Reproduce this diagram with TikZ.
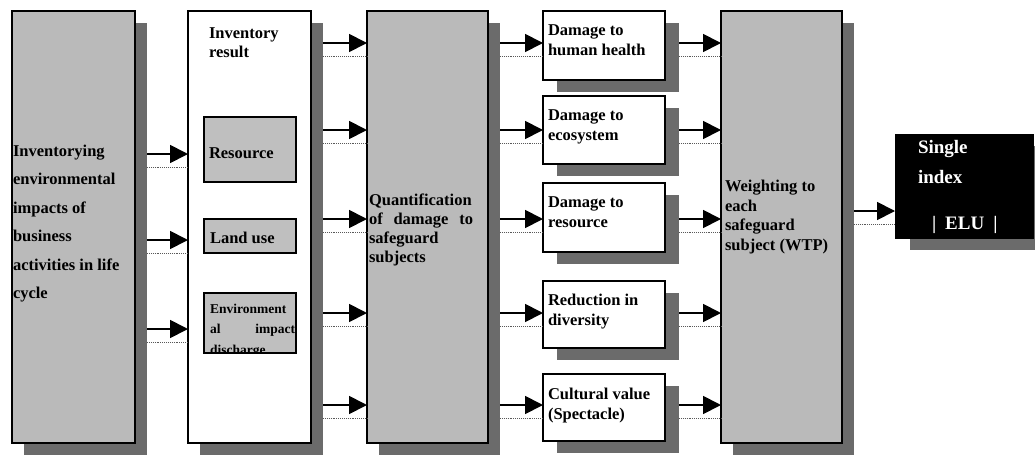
\documentclass[tikz,border=0pt]{standalone}
\usepackage{fontspec}
\setmainfont{Liberation Serif}
\usetikzlibrary{arrows.meta}
\begin{document}
\begin{tikzpicture}[x=1pt,y=-1pt,
  shadowbox/.style={fill=black!58, draw=none, anchor=north west, inner sep=0pt, outer sep=0pt},
  greybox/.style={fill=black!27, draw=black, line width=1.4pt, anchor=north west, inner sep=0pt, outer sep=0pt},
  whitebox/.style={fill=white, draw=black, line width=1.4pt, anchor=north west, inner sep=0pt, outer sep=0pt},
  innerbox/.style={fill=black!25, draw=black, line width=1.2pt, anchor=north west, inner sep=0pt, outer sep=0pt, minimum width=92pt},
  blackbox/.style={fill=black, draw=black, anchor=north west, inner sep=0pt, outer sep=0pt},
  lbl/.style={anchor=north west, inner sep=0pt, outer sep=0pt, align=left},
  arr/.style={line width=1.8pt, -{Triangle[length=18pt,width=18pt]}},
  ashadow/.style={line width=0.9pt, black!65, densely dotted},
]
\useasboundingbox (0,0) rectangle (1035,455);

% ---------- shadows ----------
\node[shadowbox, minimum width=123pt, minimum height=432pt] (s1) at (24,23) {};
\node[shadowbox, minimum width=123pt, minimum height=432pt] (s2) at (200,23) {};
\node[shadowbox, minimum width=121pt, minimum height=432pt] (s3) at (379,23) {};
\node[shadowbox, minimum width=122pt, minimum height=69pt] (s4a) at (557,23) {};
\node[shadowbox, minimum width=122pt, minimum height=68pt] (s4b) at (557,108) {};
\node[shadowbox, minimum width=122pt, minimum height=69pt] (s4c) at (557,195) {};
\node[shadowbox, minimum width=122pt, minimum height=67pt] (s4d) at (557,293) {};
\node[shadowbox, minimum width=122pt, minimum height=67pt] (s4e) at (557,386) {};
\node[shadowbox, minimum width=121pt, minimum height=432pt] (s5) at (733,23) {};
\node[shadowbox, minimum width=125pt, minimum height=104pt] (s6) at (910,146) {};

% ---------- boxes ----------
\node[greybox, minimum width=123pt, minimum height=432pt] (b1) at (12,11) {};
\node[whitebox, minimum width=123pt, minimum height=432pt] (b2) at (188,11) {};
\node[greybox, minimum width=121pt, minimum height=432pt] (b3) at (367,11) {};
\node[whitebox, minimum width=122pt, minimum height=69pt] (b4a) at (543,11) {};
\node[whitebox, minimum width=122pt, minimum height=68pt] (b4b) at (543,96) {};
\node[whitebox, minimum width=122pt, minimum height=69pt] (b4c) at (543,183) {};
\node[whitebox, minimum width=122pt, minimum height=67pt] (b4d) at (543,281) {};
\node[whitebox, minimum width=122pt, minimum height=67pt] (b4e) at (543,374) {};
\node[greybox, minimum width=121pt, minimum height=432pt] (b5) at (721,11) {};
\node[blackbox, minimum width=138pt, minimum height=104pt] (b6) at (895,134) {};

% inner boxes of the inventory result
\node[innerbox, minimum height=65pt] (res) at (204,117) {};
\node[innerbox, minimum height=34pt] (land) at (204,219) {};
\node[innerbox, minimum height=60pt] (env) at (204,293) {};

% ---------- texts ----------
\node[lbl, font={\fontsize{16.5}{28.5}\selectfont\bfseries}] (t1) at (13,145)
  {Inventorying\\environmental\\impacts of\\business\\activities in life\\cycle};
\node[lbl, font={\fontsize{16.5}{19}\selectfont\bfseries}] (t2) at (209,28)
  {Inventory\\result};
\node[lbl, font={\fontsize{16.5}{19}\selectfont\bfseries}] (tres) at (209,148) {Resource};
\node[lbl, font={\fontsize{16.5}{19}\selectfont\bfseries}] (tland) at (210,232) {Land use};
\begin{scope}
  \clip (env.north west) rectangle (env.south east);
  \node[lbl, font={\fontsize{13.5}{20.5}\selectfont\bfseries}] (tenv) at (210,304)
    {Environment\\\makebox[85pt][s]{al impact}\\discharge};
\end{scope}
\node[lbl, font={\fontsize{16.5}{19}\selectfont\bfseries}] (t3) at (369,194)
  {Quantification\\\makebox[104pt][s]{of damage to}\\safeguard\\subjects};
\node[lbl, font={\fontsize{16.5}{20}\selectfont\bfseries}] (t4a) at (548,25) {Damage to\\human health};
\node[lbl, font={\fontsize{16.5}{20}\selectfont\bfseries}] (t4b) at (548,110) {Damage to\\ecosystem};
\node[lbl, font={\fontsize{16.5}{20}\selectfont\bfseries}] (t4c) at (548,197) {Damage to\\resource};
\node[lbl, font={\fontsize{16.5}{20}\selectfont\bfseries}] (t4d) at (548,294) {Reduction in\\diversity};
\node[lbl, font={\fontsize{16.5}{20}\selectfont\bfseries}] (t4e) at (548,388) {Cultural value\\(Spectacle)};
\node[lbl, font={\fontsize{16.5}{19.7}\selectfont\bfseries}] (t5) at (725,180)
  {Weighting to\\each\\safeguard\\subject (WTP)};
\node[lbl, text=white, font={\fontsize{19}{30}\selectfont\bfseries}] (t6) at (918,140)
  {Single\\index};
\node[lbl, text=white, font={\fontsize{19}{19}\selectfont\bfseries}] (t6b) at (932,216)
  {|\hspace{9pt}ELU\hspace{9pt}|};

% ---------- connectors ----------
\foreach \y [count=\i] in {154,240,329} {
  \coordinate (ya\i) at (0,\y);
  \coordinate (yas\i) at (0,\y+13);
  \draw[ashadow] (s1.east |- yas\i) -- (b2.west |- yas\i);
  \draw[arr] (s1.east |- ya\i) -- (b2.west |- ya\i);
}
\foreach \y [count=\i] in {43,130,219,313,405} {
  \coordinate (yb\i) at (0,\y);
  \coordinate (ybs\i) at (0,\y+13);
  \draw[ashadow] (s2.east |- ybs\i) -- (b3.west |- ybs\i);
  \draw[arr] (s2.east |- yb\i) -- (b3.west |- yb\i);
}
\foreach \y/\n in {43/a,130/b,219/c,313/d,405/e} {
  \coordinate (yc\n) at (0,\y);
  \coordinate (ycs\n) at (0,\y+13);
  \draw[ashadow] (s3.east |- ycs\n) -- (b4\n.west |- ycs\n);
  \draw[arr] (s3.east |- yc\n) -- (b4\n.west |- yc\n);
  \draw[ashadow] (s4\n.east |- ycs\n) -- (b5.west |- ycs\n);
  \draw[arr] (s4\n.east |- yc\n) -- (b5.west |- yc\n);
}
\coordinate (ye) at (0,211);
\coordinate (yes) at (0,224);
\draw[ashadow] (s5.east |- yes) -- (b6.west |- yes);
\draw[arr] (s5.east |- ye) -- (b6.west |- ye);
\end{tikzpicture}
\end{document}
